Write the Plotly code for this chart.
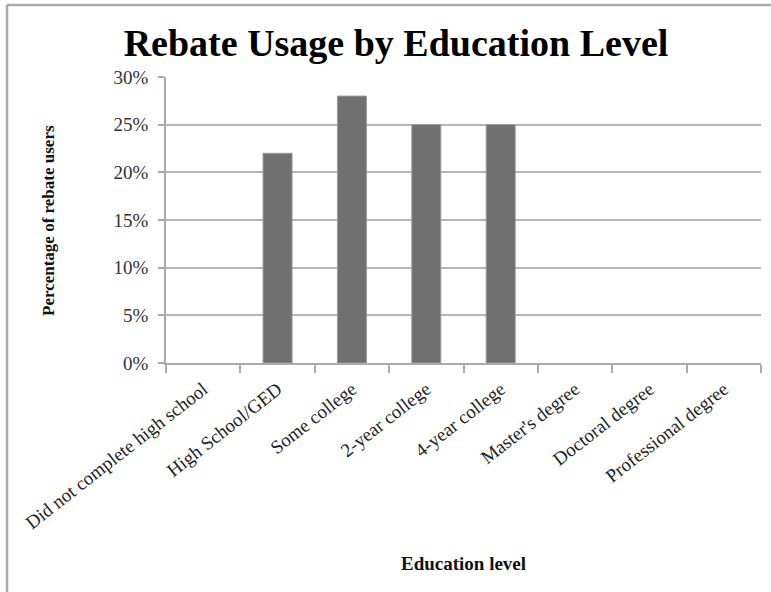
import plotly.graph_objects as go

categories = ["Did not complete high school", "High School/GED", "Some college",
              "2-year college", "4-year college", "Master's degree",
              "Doctoral degree", "Professional degree"]
values = [0, 22, 28, 25, 25, 0, 0, 0]
y_ticks = [0, 5, 10, 15, 20, 25, 30]
y_tick_labels = ["0%", "5%", "10%", "15%", "20%", "25%", "30%"]

W, H = 771, 592
L, R, T, B = 166, 10, 77, 229
pw, ph = W - L - R, H - T - B

def px(x):
    return (x - L) / pw

def py(y):
    return (H - B - y) / ph

serif = "Liberation Serif, Times New Roman, serif"

fig = go.Figure(go.Bar(
    x=categories, y=values,
    marker=dict(color="#707070",
                line=dict(color="#9a9a9a", width=[0 if v == 0 else 1 for v in values])),
))

fig.update_layout(
    width=W, height=H,
    margin=dict(l=L, r=R, t=T, b=B),
    paper_bgcolor="white", plot_bgcolor="white",
    bargap=0.61,
    showlegend=False,
    font=dict(family=serif, color="#222"),
    title=dict(text="<b>Rebate Usage by Education Level</b>",
               x=396 / W, xanchor="center", y=1 - 43 / H, yanchor="middle",
               yref="container", font=dict(family=serif, size=38, color="#000")),
)

fig.update_yaxes(
    range=[0, 30], tickvals=y_ticks, ticktext=y_tick_labels,
    showgrid=True, gridcolor="#b5b5b5", gridwidth=1.5,
    showline=True, linecolor="#aaaaaa", linewidth=1.5,
    ticks="outside", ticklen=6, tickcolor="#aaaaaa", tickwidth=1.5,
    ticklabelstandoff=6,
    tickfont=dict(family=serif, size=19, color="#333"),
    zeroline=False, fixedrange=True,
)
fig.update_xaxes(
    tickangle=-38, tickson="boundaries",
    showline=True, linecolor="#aaaaaa", linewidth=1.5,
    ticks="outside", ticklen=8, tickcolor="#aaaaaa", tickwidth=1.5,
    ticklabelstandoff=6,
    tickfont=dict(family=serif, size=19, color="#222"),
    fixedrange=True,
)

fig.add_annotation(text="<b>Education level</b>", xref="paper", yref="paper",
                   x=0.5, y=py(563), xanchor="center", yanchor="middle",
                   showarrow=False, font=dict(family=serif, size=19, color="#111"))
fig.add_annotation(text="<b>Percentage of rebate users</b>", xref="paper", yref="paper",
                   x=px(48), y=py(221), xanchor="center", yanchor="middle",
                   textangle=-90, showarrow=False,
                   font=dict(family=serif, size=17, color="#111"))

# outer frame of the chart image
fig.add_shape(type="line", xref="paper", yref="paper",
              x0=px(7), y0=py(5), x1=px(W + 5), y1=py(5),
              line=dict(color="#aaaaaa", width=2.5))
fig.add_shape(type="line", xref="paper", yref="paper",
              x0=px(7), y0=py(5), x1=px(7), y1=py(H + 5),
              line=dict(color="#aaaaaa", width=2.5))

fig.write_html("out.html")
